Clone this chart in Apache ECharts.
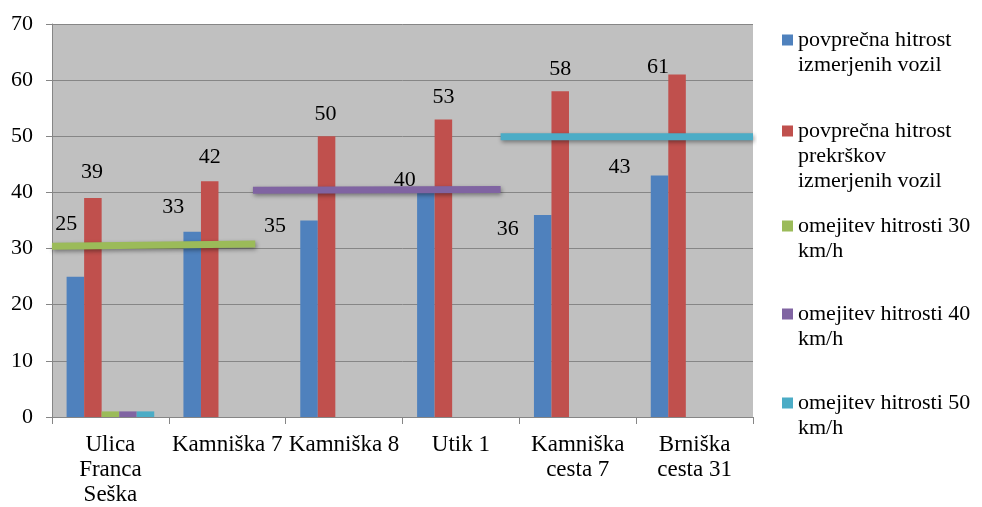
<!DOCTYPE html>
<html>
<head>
<meta charset="utf-8">
<script src="https://cdn.jsdelivr.net/npm/echarts@6/dist/echarts.min.js"></script>
<style>
  html, body { margin: 0; background: #fff; }
  #chart { width: 982px; height: 507px; }
</style>
</head>
<body>
<div id="chart"></div>
<script>
// lokacije meritev
var categories = ["Ulica\nFranca\nSeška", "Kamniška 7", "Kamniška 8", "Utik 1", "Kamniška\ncesta 7", "Brniška\ncesta 31"];
// imena serij (legenda)
var seriesNames = [
  "povprečna hitrost\nizmerjenih vozil",
  "povprečna hitrost\nprekrškov\nizmerjenih vozil",
  "omejitev hitrosti 30\nkm/h",
  "omejitev hitrosti 40\nkm/h",
  "omejitev hitrosti 50\nkm/h"
];
var avgSpeed = [25, 33, 35, 40, 36, 43];
var avgOffenceSpeed = [39, 42, 50, 53, 58, 61];
var limit30 = [1, null, null, null, null, null];
var limit40 = [1, null, null, null, null, null];
var limit50 = [1, null, null, null, null, null];
// omejitve kot črte: [položaj po kategorijah, hitrost]
var limit30Line = [[-0.5, 30.4], [1.24, 30.8]];
var limit40Line = [[1.22, 40.4], [3.34, 40.5]];
var limit50Line = [[3.34, 49.9], [5.5, 49.9]];
// os y
var yMin = 0, yMax = 70, yStep = 10;

var colors = ["#4f81bd", "#c0504d", "#9bbb59", "#8064a2", "#4bacc6"];
var font = "'Liberation Serif', 'Times New Roman', serif";

// ročno premaknjene oznake (kot v izvirniku)
var blueLabelOffset = [[-9, -40], [-19, -12], [-34, 18], [-21, 0], [-35, 27], [-40, 4]];
var redLabelOffset = [[-1, -13], [0, -11], [-1, -10], [0, -10], [0, -10], [-19, 5]];

function withOffsets(values, offsets) {
  return values.map(function (v, i) {
    return { value: v, label: { offset: offsets[i] } };
  });
}

function barSeries(name, data, color, showLabel) {
  return {
    name: name,
    type: "bar",
    data: data,
    barGap: 0,
    barCategoryGap: "25%",
    itemStyle: { color: color },
    label: {
      show: showLabel,
      position: "top",
      distance: 0,
      color: "#000",
      fontFamily: font,
      fontSize: 22,
      lineHeight: 25
    }
  };
}

function limitLine(data, color) {
  return {
    type: "line",
    xAxisIndex: 1,
    data: data,
    showSymbol: false,
    symbol: "none",
    silent: true,
    z: 5,
    lineStyle: {
      color: color,
      width: 7,
      cap: "butt",
      shadowColor: "rgba(0,0,0,0.4)",
      shadowBlur: 4,
      shadowOffsetX: 1,
      shadowOffsetY: 2
    }
  };
}

// legenda: ikona poravnana s prvo vrstico besedila
var legendTops = [40, 131, 226, 314, 403];
var lineH = 25;
function makeLegend(i) {
  var lines = seriesNames[i].split("\n").length;
  var h = lines * lineH;
  var icon = "path://M0,0h0.01v0.01h-0.01z M0,7h11v11h-11z M0," + (h - 0.01) + "h0.01v0.01h-0.01z";
  return {
    data: [{ name: seriesNames[i], icon: icon }],
    left: 782,
    top: legendTops[i] - lineH / 2,
    orient: "vertical",
    itemWidth: 11,
    itemHeight: h,
    padding: 0,
    selectedMode: false,
    textStyle: { fontFamily: font, fontSize: 22, lineHeight: lineH, color: "#000" }
  };
}

var chart = echarts.init(document.getElementById("chart"));
chart.setOption({
  animation: false,
  color: colors,
  legend: [0, 1, 2, 3, 4].map(makeLegend),
  grid: {
    left: 52,
    right: 229,
    top: 24,
    bottom: 90,
    show: true,
    backgroundColor: "#c0c0c0",
    borderWidth: 0
  },
  xAxis: [
    {
      type: "category",
      data: categories,
      axisLine: { onZero: false, lineStyle: { color: "#868686", width: 1 } },
      axisTick: { show: true, length: 7, lineStyle: { color: "#868686" } },
      axisLabel: {
        interval: 0,
        margin: 15,
        color: "#000",
        fontFamily: font,
        fontSize: 23,
        lineHeight: lineH
      }
    },
    {
      type: "value",
      min: -0.5,
      max: 5.5,
      show: false
    }
  ],
  yAxis: {
    type: "value",
    min: yMin,
    max: yMax,
    interval: yStep,
    axisLine: { show: true, onZero: false, lineStyle: { color: "#868686" } },
    axisTick: { show: true, length: 6, lineStyle: { color: "#868686" } },
    splitLine: { lineStyle: { color: "#868686", width: 1 } },
    axisLabel: {
      margin: 19,
      color: "#000",
      fontFamily: font,
      fontSize: 22
    }
  },
  series: [
    barSeries(seriesNames[0], withOffsets(avgSpeed, blueLabelOffset), colors[0], true),
    barSeries(seriesNames[1], withOffsets(avgOffenceSpeed, redLabelOffset), colors[1], true),
    barSeries(seriesNames[2], limit30, colors[2], false),
    barSeries(seriesNames[3], limit40, colors[3], false),
    barSeries(seriesNames[4], limit50, colors[4], false),
    limitLine(limit30Line, colors[2]),
    limitLine(limit40Line, colors[3]),
    limitLine(limit50Line, colors[4])
  ]
});
</script>
</body>
</html>
